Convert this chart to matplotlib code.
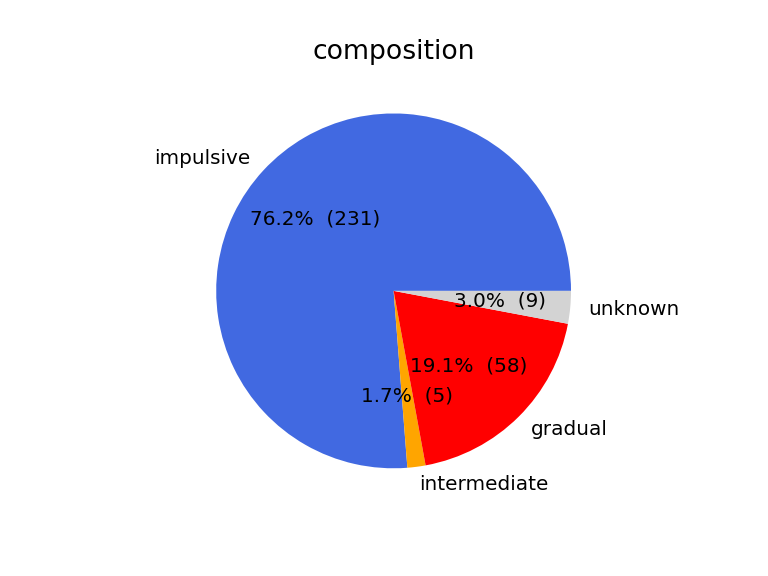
import matplotlib
matplotlib.use("Agg")
import matplotlib.pyplot as plt

labels = ["impulsive", "intermediate", "gradual", "unknown"]
counts = [231, 5, 58, 9]
colors = ["royalblue", "orange", "red", "lightgray"]

total = sum(counts)

def fmt(pct):
    return "%1.1f%%  (%d)" % (pct, round(pct * total / 100.0))

fig, ax = plt.subplots(figsize=(6.4, 4.8), dpi=120)
ax.pie(counts, labels=labels, colors=colors, autopct=fmt,
       textprops={"fontsize": 12})
ax.set_title("composition", fontsize=16)
fig.savefig("out.png")
